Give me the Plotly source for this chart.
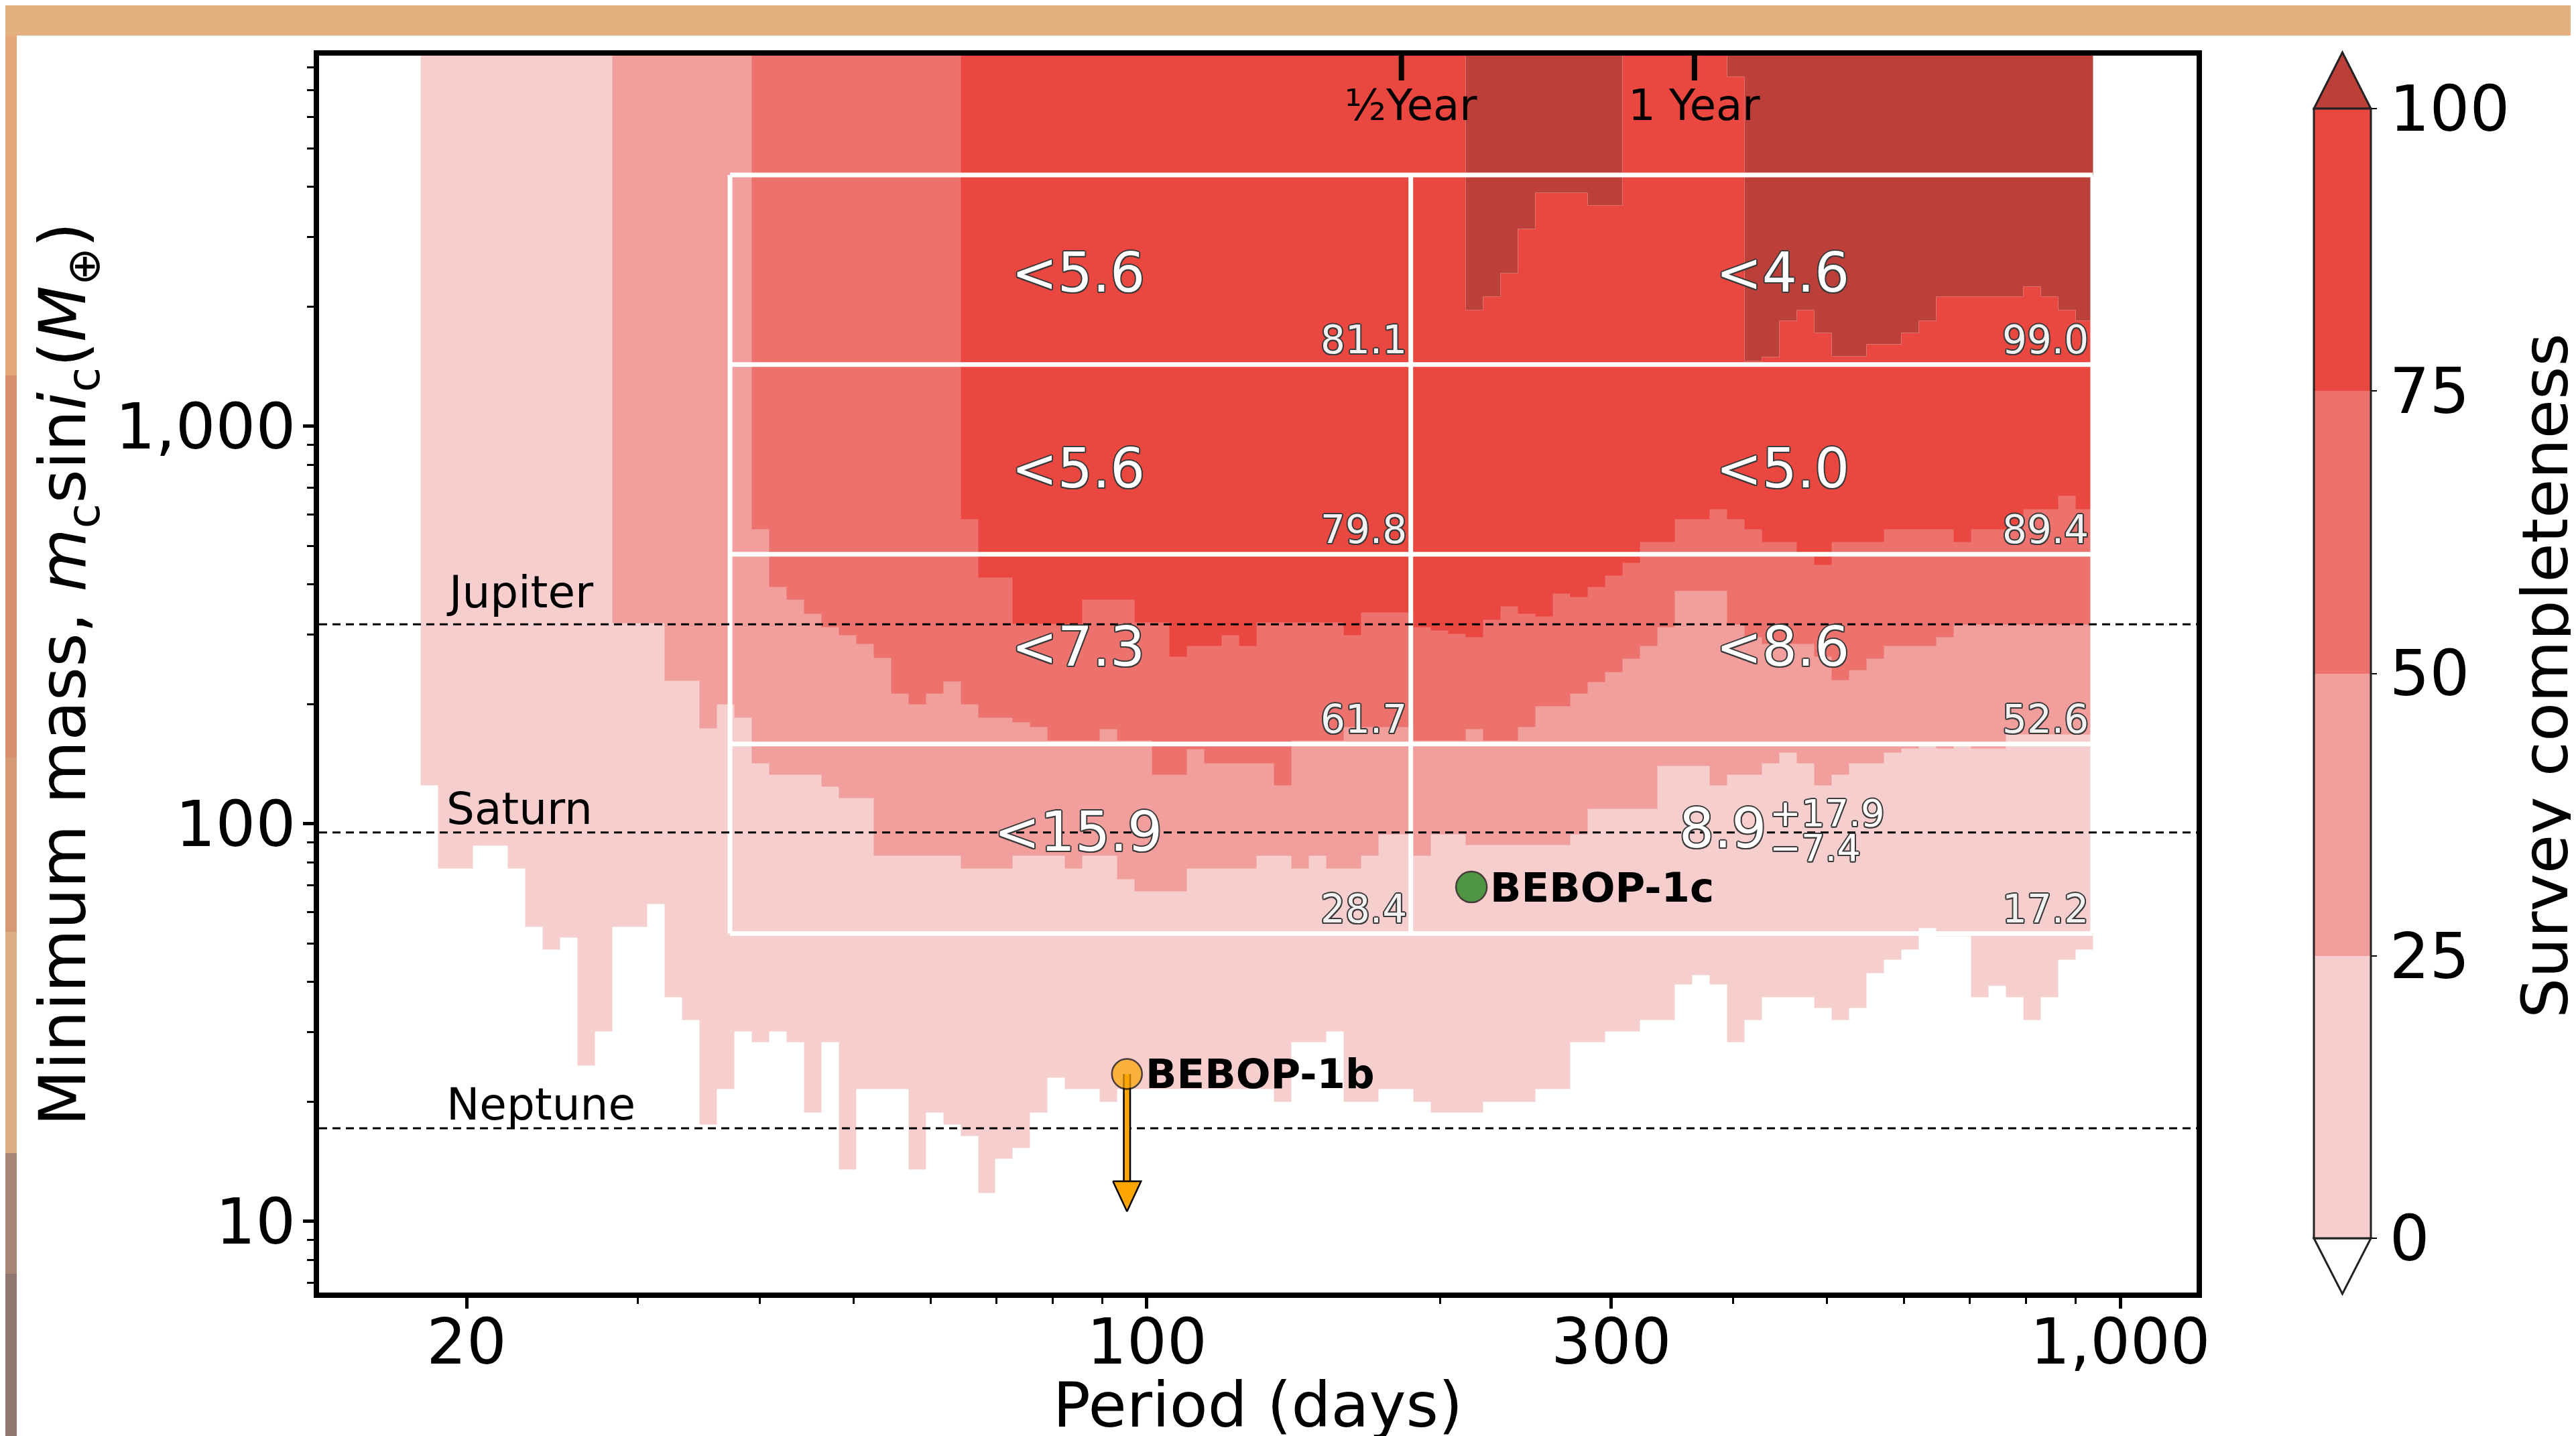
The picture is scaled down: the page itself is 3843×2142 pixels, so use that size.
import numpy as np
import plotly.graph_objects as go

# ------------------------------------------------------------------ data
# Completeness map: 96 log-spaced period bins between these edges (days)
PERIOD_GRID_MIN = 17.94
PERIOD_GRID_MAX = 937.0
N_PERIOD_BINS = 96

# Minimum mass (Earth masses) at which survey completeness reaches each level,
# one value per period bin (None = level never reached inside the plotted range)
MASS_AT_0 = [125, 77.4, 77.4, 88.0, 88.0, 77.4, 55.0, 48.2, 51.7, 24.7,
             30.1, 55.0, 55.0, 63.0, 36.7, 32.1, 17.5, 21.5, 30.1, 28.3,
             30.1, 28.3, 18.8, 28.3, 13.5, 21.5, 21.5, 21.5, 13.5, 18.8,
             17.5, 16.4, 11.8, 14.4, 15.3, 18.8, 23.0, 21.5, 21.5, 20.0,
             21.5, 21.5, 21.5, 21.5, 21.5, 21.5, 21.5, 21.5, 21.5, 20.0,
             28.3, 28.3, 30.1, 20.0, 20.0, 21.5, 21.5, 20.0, 18.8, 18.8,
             18.8, 20.0, 20.0, 20.0, 21.5, 21.5, 28.3, 28.3, 30.1, 30.1,
             32.1, 32.1, 39.5, 41.7, 39.5, 28.3, 32.1, 36.7, 36.7, 36.7,
             34.5, 32.1, 34.5, 42.1, 45.5, 48.2, 54.6, 52.1, 52.1, 36.7,
             39.1, 36.7, 32.1, 36.7, 45.5, 48.2]
MASS_AT_25 = [None] * 11 + [
             320, 320, 320, 229, 229, 174, 200, 185, 142,
             133, 133, 133, 124, 116, 116, 83.3, 83.3, 83.3, 83.3,
             83.3, 77.4, 77.4, 77.4, 83.3, 83.3, 83.3, 77.4, 83.3, 83.3,
             72.7, 67.6, 67.6, 67.6, 77.4, 77.4, 77.4, 77.4, 83.3, 83.3,
             77.4, 83.3, 77.4, 77.4, 83.3, 94.3, 94.3, 83.3, 94.3, 94.3,
             88.6, 88.6, 88.6, 88.6, 88.6, 88.6, 94.3, 109, 109, 109,
             109, 140, 140, 140, 125, 133, 133, 142, 151, 142,
             125, 133, 142, 142, 151, 155, 157, 155, 159, 155,
             155, 168, 168, 168, 168, 168]
MASS_AT_50 = [None] * 19 + [
             550,
             395, 366, 338, 313, 298, 284, 261, 213, 200, 213,
             228, 200, 185, 185, 180, 175, 162, 162, 162, 173,
             162, 162, 133, 133, 154, 142, 142, 142, 142, 125,
             162, 162, 162, 175, 175, 175, 175, 162, 162, 162,
             173, 162, 162, 175, 198, 198, 213, 227, 241, 260,
             280, 313, 386, 386, 386, 318, 295, 284, 284, 284,
             263, 230, 244, 260, 280, 280, 280, 295, 317, 317,
             317, 317, 317, 317, 317, 317]
MASS_AT_75 = [None] * 31 + [
             583, 417, 417, 319, 319, 319, 319, 366, 366,
             366, 321, 321, 263, 280, 280, 298, 280, 321, 321,
             321, 321, 321, 298, 341, 341, 341, 313, 307, 301,
             295, 326, 352, 338, 332, 380, 373, 395, 422, 453,
             511, 511, 583, 583, 620, 583, 550, 511, 511, 473,
             448, 511, 511, 511, 550, 550, 550, 550, 511, 550,
             550, 550, 620, 620, 668, 620]
MASS_AT_100 = [None] * 60 + [
             1965, 2124, 2432, 3143, 3863, 3863, 3863, 3597, 3597, None,
             None, None, None, None, None, 7570, 1458, 1497, 1847, 1965,
             1716, 1503, 1503, 1612, 1612, 1716, 1847, 2116, 2116, 2116,
             2116, 2116, 2251, 2116, 1965, 1847]
COMPLETENESS_TICKS = [0, 25, 50, 75, 100]

# Summary grid (white boxes)
BOX_PERIOD_EDGES = [37.3, 186.7, 937.0]
BOX_MASS_EDGES = [52.97, 158.9, 476.7, 1430.1, 4290.3]
LABEL_PERIODS = [85, 450]
LIMITS_SHORT = ["<15.9", "<7.3", "<5.6", "<5.6"]      # bottom -> top
LIMITS_LONG = [None, "<8.6", "<5.0", "<4.6"]
COMPL_SHORT = [28.4, 61.7, 79.8, 81.1]
COMPL_LONG = [17.2, 52.6, 89.4, 99.0]
DETECTION = ("8.9", "+17.9", "\u22127.4")

# Solar-system reference masses
PLANET_NAMES = ["Jupiter", "Saturn", "Neptune"]
PLANET_MASSES = [317.8, 95.16, 17.15]

# BEBOP-1 planets
BEBOP_NAMES = ["BEBOP-1b", "BEBOP-1c"]
BEBOP_PERIODS = [95.4, 215.5]
BEBOP_MASSES = [23.5, 69.4]
BEBOP_COLORS = ["#FFA500", "#0A7D0A"]
BEBOP_1B_LIMIT_TO = 10.6

YEAR_TICKS = [182.625, 365.25]
YEAR_LABELS = ["\u00bdYear", "1 Year"]

X_TICKS = [20, 100, 300, 1000]
X_TICKTEXT = ["20", "100", "300", "1,000"]
X_MINOR = [30, 40, 50, 60, 70, 80, 90, 200, 400, 500, 600, 700, 800, 900]
Y_TICKS = [10, 100, 1000]
Y_TICKTEXT = ["10", "100", "1,000"]
Y_MINOR = [7, 8, 9, 20, 30, 40, 50, 60, 70, 80, 90,
           200, 300, 400, 500, 600, 700, 800, 900,
           2000, 3000, 4000, 5000, 6000, 7000, 8000]

# ------------------------------------------------------------------ style
FONT = "DejaVu Sans"
LEVEL_COLORS = ["#F6CECD", "#F19E9C", "#ED716C", "#EA4740"]
OVER_COLOR = "#BC3F3A"
X_RANGE = [1.1495, 3.0785]
Y_RANGE = [0.8212, 3.9325]
W, H = 3843, 2142
OX, OY = 8, 8                      # page body margin
ML, MT = 476 - OX, 83 - OY
PW, PH = 2801, 1845
MR, MB = W - ML - PW, H - MT - PH
ROW_LABEL_YSHIFT = [11, 4, -13, -4]     # bottom -> top
PLANET_LABEL_YSHIFT = [7, -5, -5]
YEAR_LABEL_XSHIFT = [14, 0]


def paper(px, py):
    """screen pixel -> paper coordinates"""
    return (px - OX - ML) / PW, 1 - (py - OY - MT) / PH


# ------------------------------------------------------------------ grid
period_edges = np.logspace(np.log10(PERIOD_GRID_MIN), np.log10(PERIOD_GRID_MAX), N_PERIOD_BINS + 1)
TH = np.array([[np.inf if v is None else float(v) for v in arr]
               for arr in (MASS_AT_0, MASS_AT_25, MASS_AT_50, MASS_AT_75, MASS_AT_100)])
finite = TH[np.isfinite(TH)]
mass_edges = np.unique(np.concatenate([finite, [10 ** Y_RANGE[0] * 0.9, 10 ** Y_RANGE[1] * 1.1]]))
mids = np.sqrt(mass_edges[:-1] * mass_edges[1:])
level = (TH[None, :, :] <= mids[:, None, None]).sum(axis=1)
band_value = np.array([np.nan, 12.5, 37.5, 62.5, 87.5, np.nan])
z_main = band_value[level]
z_over = np.where(level == 5, 1.0, np.nan)

fig = go.Figure()
fig.add_trace(go.Heatmap(x=period_edges, y=mass_edges, z=z_main, coloraxis="coloraxis",
                         hoverinfo="skip"))
fig.add_trace(go.Heatmap(x=period_edges, y=mass_edges, z=z_over, zmin=0, zmax=1,
                         colorscale=[[0, OVER_COLOR], [1, OVER_COLOR]], showscale=False,
                         hoverinfo="skip"))

# white summary boxes
bx, by = [], []
for m in BOX_MASS_EDGES:
    bx += [BOX_PERIOD_EDGES[0], BOX_PERIOD_EDGES[-1], None]
    by += [m, m, None]
for p in BOX_PERIOD_EDGES:
    bx += [p, p, None]
    by += [BOX_MASS_EDGES[0], BOX_MASS_EDGES[-1], None]
fig.add_trace(go.Scatter(x=bx, y=by, mode="lines", line=dict(color="white", width=7),
                         hoverinfo="skip", showlegend=False))

# planet reference lines
for m in PLANET_MASSES:
    fig.add_trace(go.Scatter(x=[10 ** X_RANGE[0], 10 ** X_RANGE[1]], y=[m, m], mode="lines",
                             line=dict(color="black", width=3, dash="12px,8px"),
                             hoverinfo="skip", showlegend=False))

# BEBOP-1b upper-limit arrow (head size in pixels converted to log-axis units)
HEAD_W_PX, HEAD_H_PX = 42, 45
dec_per_px_x = (X_RANGE[1] - X_RANGE[0]) / PW
dec_per_px_y = (Y_RANGE[1] - Y_RANGE[0]) / PH
p_b = BEBOP_PERIODS[0]
head_base = BEBOP_1B_LIMIT_TO * 10 ** (HEAD_H_PX * dec_per_px_y)
hw = 10 ** (HEAD_W_PX / 2 * dec_per_px_x)
fig.add_trace(go.Scatter(x=[p_b, p_b], y=[BEBOP_MASSES[0], head_base],
                         mode="lines", line=dict(color="black", width=12),
                         hoverinfo="skip", showlegend=False))
fig.add_trace(go.Scatter(x=[p_b, p_b], y=[BEBOP_MASSES[0], head_base * 0.98],
                         mode="lines", line=dict(color=BEBOP_COLORS[0], width=7),
                         hoverinfo="skip", showlegend=False))
fig.add_trace(go.Scatter(x=[p_b / hw, p_b * hw, p_b, p_b / hw],
                         y=[head_base, head_base, BEBOP_1B_LIMIT_TO, head_base],
                         mode="lines", fill="toself", fillcolor=BEBOP_COLORS[0],
                         line=dict(color="black", width=2.5),
                         hoverinfo="skip", showlegend=False))
# planets
fig.add_trace(go.Scatter(x=BEBOP_PERIODS, y=BEBOP_MASSES, mode="markers",
                         marker=dict(size=[45, 46], color=BEBOP_COLORS,
                                     line=dict(color="black", width=2.5)),
                         hoverinfo="skip", showlegend=False))

# ------------------------------------------------------------------ annotations
ann = []
outline = ("2px 0 0 #3a3a3a, -2px 0 0 #3a3a3a, 0 2px 0 #3a3a3a, 0 -2px 0 #3a3a3a, "
           "1.5px 1.5px 0 #3a3a3a, -1.5px -1.5px 0 #3a3a3a, 1.5px -1.5px 0 #3a3a3a, -1.5px 1.5px 0 #3a3a3a")
for r in range(4):
    yc = np.log10(np.sqrt(BOX_MASS_EDGES[r] * BOX_MASS_EDGES[r + 1]))
    for c, (lims, comp) in enumerate([(LIMITS_SHORT, COMPL_SHORT), (LIMITS_LONG, COMPL_LONG)]):
        if lims[r] is not None:
            ann.append(dict(x=np.log10(LABEL_PERIODS[c]), y=yc, text=lims[r], showarrow=False,
                            xanchor="center", yanchor="middle", yshift=ROW_LABEL_YSHIFT[r],
                            font=dict(family=FONT, size=82, color="white", shadow=outline)))
        ann.append(dict(x=np.log10(BOX_PERIOD_EDGES[c + 1]), y=np.log10(BOX_MASS_EDGES[r]),
                        text=f"{comp[r]:.1f}", showarrow=False, xanchor="right", yanchor="bottom",
                        xshift=-4, yshift=1,
                        font=dict(family=FONT, size=58, color="#f2f2f2", shadow=outline)))
# detection in the bottom-right cell
yc = np.log10(np.sqrt(BOX_MASS_EDGES[0] * BOX_MASS_EDGES[1]))
xc = np.log10(LABEL_PERIODS[1])
ann.append(dict(x=xc, y=yc, text=DETECTION[0], showarrow=False, xanchor="right", yanchor="middle",
                xshift=-22, yshift=16, font=dict(family=FONT, size=82, color="white", shadow=outline)))
ann.append(dict(x=xc, y=yc, text=DETECTION[1], showarrow=False, xanchor="left", yanchor="middle",
                xshift=-21, yshift=39, font=dict(family=FONT, size=56, color="white", shadow=outline)))
ann.append(dict(x=xc, y=yc, text=DETECTION[2], showarrow=False, xanchor="left", yanchor="middle",
                xshift=-21, yshift=-13, font=dict(family=FONT, size=56, color="white", shadow=outline)))

for name, m, ys in zip(PLANET_NAMES, PLANET_MASSES, PLANET_LABEL_YSHIFT):
    ann.append(dict(xref="paper", x=paper(664, 0)[0], y=np.log10(m), text=name, showarrow=False,
                    xanchor="left", yanchor="bottom", yshift=ys,
                    font=dict(family=FONT, size=66, color="black")))
for name, p, m in zip(BEBOP_NAMES, BEBOP_PERIODS, BEBOP_MASSES):
    ann.append(dict(x=np.log10(p), y=np.log10(m), text=f"<b>{name}</b>", showarrow=False,
                    xanchor="left", yanchor="middle", xshift=26,
                    font=dict(family=FONT, size=61, color="black")))
for p, lab, xs in zip(YEAR_TICKS, YEAR_LABELS, YEAR_LABEL_XSHIFT):
    ann.append(dict(x=np.log10(p), yref="paper", y=paper(0, 157)[1], text=lab, showarrow=False,
                    xanchor="center", yanchor="middle", xshift=xs,
                    font=dict(family=FONT, size=64, color="black")))
# colour-bar label
cbl_x, cbl_y = paper(3740, 1008)
ann.append(dict(xref="paper", yref="paper", x=cbl_x, y=cbl_y, text="Survey completeness",
                textangle=-90, showarrow=False, xanchor="left", yanchor="middle",
                font=dict(family=FONT, size=95, color="black")))

# ------------------------------------------------------------------ shapes
shapes = []
for p in YEAR_TICKS:
    shapes.append(dict(type="line", xref="x", x0=p, x1=p, yref="paper", y0=1, y1=paper(0, 120)[1],
                       line=dict(color="black", width=8)))


def path(points):
    pts = [paper(*pt) for pt in points]
    return "M " + " L ".join(f"{x:.5f},{y:.5f}" for x, y in pts) + " Z"


# colourbar extensions
shapes.append(dict(type="path", xref="paper", yref="paper",
                   path=path([(3452, 162), (3494.5, 78), (3537, 162)]),
                   fillcolor=OVER_COLOR, line=dict(color="#222", width=3)))
shapes.append(dict(type="path", xref="paper", yref="paper",
                   path=path([(3452, 1847), (3494.5, 1930), (3537, 1847)]),
                   fillcolor="white", line=dict(color="#222", width=3)))

# slide background decorations
x0, y0 = paper(-20, 53)
x1, y1 = paper(W + 20, -20)
shapes.append(dict(type="rect", xref="paper", yref="paper", x0=x0, x1=x1, y0=y0, y1=y1,
                   fillcolor="#E4B080", line=dict(width=0)))
lx0, ly = paper(49, 4)
lx1, _ = paper(3107, 4)
shapes.append(dict(type="line", xref="paper", yref="paper", x0=lx0, x1=lx1, y0=ly, y1=ly,
                   line=dict(color="black", width=4)))
strip = [(53, 560, "#E5A77A"), (560, 1130, "#D98E6E"), (1130, 1390, "#D69A74"),
         (1390, 1720, "#DDAE86"), (1720, 1900, "#A88677"), (1900, 2160, "#8E776D")]
for ya, yb, col in strip:
    sx0, sy0 = paper(-20, yb)
    sx1, sy1 = paper(25, ya)
    shapes.append(dict(type="rect", xref="paper", yref="paper", x0=sx0, x1=sx1, y0=sy0, y1=sy1,
                       fillcolor=col, line=dict(width=0)))

cb_x, _ = paper(3452, 0)
_, cb_y = paper(0, 1004.5)

axis_common = dict(type="log", showgrid=False, zeroline=False, showline=True, linewidth=8,
                   linecolor="black", mirror=True, ticks="outside", ticklen=16, tickwidth=5,
                   tickcolor="black", tickfont=dict(family=FONT, size=94, color="black"),
                   tickmode="array", automargin=False)

fig.update_layout(
    width=W, height=H, margin=dict(l=ML, r=MR, t=MT, b=MB, autoexpand=False),
    paper_bgcolor="white", plot_bgcolor="white", showlegend=False,
    font=dict(family=FONT, color="black"),
    xaxis=dict(**axis_common, range=X_RANGE, tickvals=X_TICKS, ticktext=X_TICKTEXT,
               ticklabelstandoff=-31,
               minor=dict(tickmode="array", tickvals=X_MINOR, ticks="outside", ticklen=9,
                          tickwidth=3, tickcolor="black", showgrid=False),
               title=dict(text="Period (days)", font=dict(family=FONT, size=93), standoff=61)),
    yaxis=dict(**axis_common, range=Y_RANGE, tickvals=Y_TICKS, ticktext=Y_TICKTEXT,
               ticklabelstandoff=-8,
               minor=dict(tickmode="array", tickvals=Y_MINOR, ticks="outside", ticklen=10,
                          tickwidth=3, tickcolor="black", showgrid=False),
               title=dict(text="Minimum mass, <i>m</i><sub>c</sub>sin<i>i</i><sub>c</sub>(<i>M</i><sub>\u2295</sub>)",
                          font=dict(family=FONT, size=97), standoff=15)),
    coloraxis=dict(
        cmin=0, cmax=100,
        colorscale=[[0, LEVEL_COLORS[0]], [0.25, LEVEL_COLORS[0]],
                    [0.25, LEVEL_COLORS[1]], [0.5, LEVEL_COLORS[1]],
                    [0.5, LEVEL_COLORS[2]], [0.75, LEVEL_COLORS[2]],
                    [0.75, LEVEL_COLORS[3]], [1, LEVEL_COLORS[3]]],
        colorbar=dict(x=cb_x, xanchor="left", y=cb_y, yanchor="middle",
                      len=1685, lenmode="pixels", thickness=85, thicknessmode="pixels",
                      xpad=0, ypad=0, outlinewidth=3, outlinecolor="#222",
                      tickmode="array", tickvals=COMPLETENESS_TICKS, ticks="outside",
                      ticklen=8, tickwidth=2, tickcolor="black",
                      tickfont=dict(family=FONT, size=94, color="black"))),
    annotations=ann,
    shapes=shapes,
)

fig.write_html("out.html")
